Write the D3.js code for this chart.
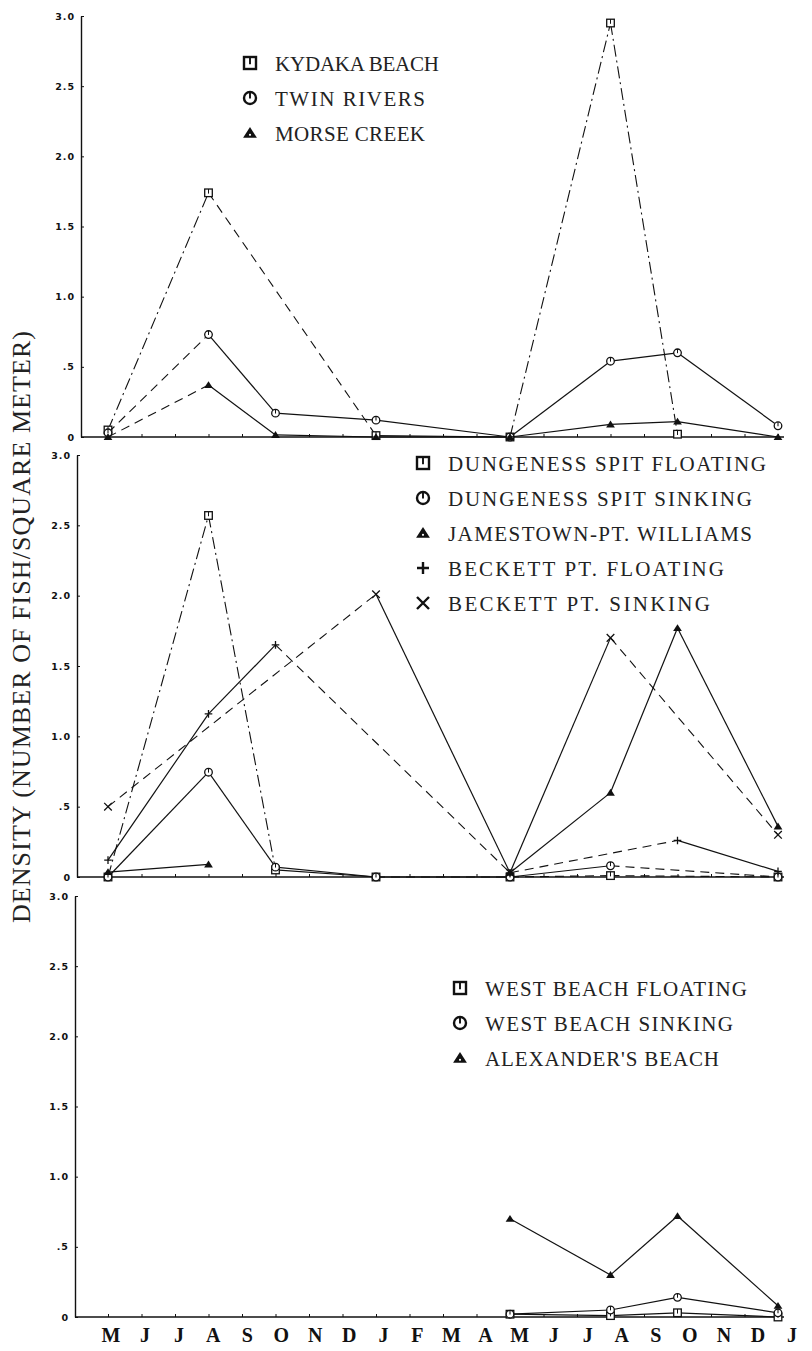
<!DOCTYPE html>
<html>
<head>
<meta charset="utf-8">
<script src="https://cdn.jsdelivr.net/npm/d3@7"></script>
<style>
  body { margin: 0; background: #fff; }
  .legend text { font-family: "Liberation Serif", serif; font-size: 21px; fill: #222; }
  .ytick text { font-family: "DejaVu Sans", sans-serif; font-weight: bold; font-size: 9.5px; letter-spacing: 1px; fill: #111; }
  .month { font-family: "Liberation Serif", serif; font-weight: bold; font-size: 20px; fill: #111; }
</style>
</head>
<body>
<script>
// month axis (May .. Jan of the second year)
var months = ["M","J","J","A","S","O","N","D","J","F","M","A","M","J","J","A","S","O","N","D","J"];
var yTickValues = [0, 0.5, 1, 1.5, 2, 2.5, 3];
var yTickLabels = ["0", ".5", "1.0", "1.5", "2.0", "2.5", "3.0"];

// panel 1
var kydakaBeach = [0.05,null,null,1.74,null,null,null,null,0.01,null,null,null,0.0,null,null,2.95,null,0.02,null,null,null];
var twinRivers  = [0.03,null,null,0.73,null,0.17,null,null,0.12,null,null,null,0.0,null,null,0.54,null,0.60,null,null,0.08];
var morseCreek  = [0.0,null,null,0.37,null,0.015,null,null,0.0,null,null,null,0.0,null,null,0.09,null,0.11,null,null,0.0];

// panel 2
var dungenessFloating = [0.0,null,null,2.57,null,0.05,null,null,0.0,null,null,null,0.0,null,null,0.01,null,null,null,null,0.0];
var dungenessSinking  = [0.0,null,null,0.745,null,0.07,null,null,0.0,null,null,null,0.0,null,null,0.08,null,null,null,null,0.0];
var jamestown         = [0.035,null,null,0.09,null,null,null,null,null,null,null,null,0.03,null,null,0.60,null,1.77,null,null,0.36];
var beckettFloating   = [0.12,null,null,1.16,null,1.65,null,null,null,null,null,null,0.03,null,null,null,null,0.26,null,null,0.04];
var beckettSinking    = [0.50,null,null,null,null,null,null,null,2.01,null,null,null,0.03,null,null,1.70,null,null,null,null,0.30];

// panel 3
var westBeachFloating = [null,null,null,null,null,null,null,null,null,null,null,null,0.02,null,null,0.01,null,0.03,null,null,0.0];
var westBeachSinking  = [null,null,null,null,null,null,null,null,null,null,null,null,0.02,null,null,0.05,null,0.14,null,null,0.03];
var alexandersBeach   = [null,null,null,null,null,null,null,null,null,null,null,null,0.70,null,null,0.30,null,0.72,null,null,0.08];

// line style of each segment between plotted points: s solid, d dashed, dd dash-dot, n none
var dashes = { s: null, d: "9,6", dd: "12,4,2,4" };

var panels = [
  { top: 16, bottom: 437, axisX: 81, legendX: 250, legendY: 63,
    series: [
      { name: "KYDAKA BEACH", values: kydakaBeach, marker: "square", segs: ["dd","d","s","dd","dd"] },
      { name: "TWIN RIVERS", values: twinRivers, marker: "circle", segs: ["d","s","s","s","s","s","s"] },
      { name: "MORSE CREEK", values: morseCreek, marker: "triangle", segs: ["d","s","s","s","s","s","s"] }
    ] },
  { top: 455, bottom: 877, axisX: 77, legendX: 423, legendY: 463,
    series: [
      { name: "DUNGENESS SPIT FLOATING", values: dungenessFloating, marker: "square", segs: ["dd","dd","s","d","d","d"] },
      { name: "DUNGENESS SPIT SINKING", values: dungenessSinking, marker: "circle", segs: ["s","s","s","s","s","d"] },
      { name: "JAMESTOWN-PT. WILLIAMS", values: jamestown, marker: "triangle", segs: ["s","n","s","s","s"] },
      { name: "BECKETT PT. FLOATING", values: beckettFloating, marker: "plus", segs: ["s","s","d","d","s"] },
      { name: "BECKETT PT. SINKING", values: beckettSinking, marker: "cross", segs: ["d","s","s","d"] }
    ] },
  { top: 896, bottom: 1317, axisX: 75, legendX: 460, legendY: 988,
    series: [
      { name: "WEST BEACH FLOATING", values: westBeachFloating, marker: "square", segs: ["s","s","s"] },
      { name: "WEST BEACH SINKING", values: westBeachSinking, marker: "circle", segs: ["s","s","s"] },
      { name: "ALEXANDER'S BEACH", values: alexandersBeach, marker: "triangle", segs: ["s","s","s"] }
    ] }
];

var width = 812, height = 1351;
var charW = 14; // typewriter pitch of the legend lettering

var svg = d3.select("body").append("svg")
    .attr("width", width)
    .attr("height", height);

var x = d3.scaleLinear().domain([0, months.length - 1]).range([108, 778]);
var xLabel = d3.scaleLinear().domain([0, months.length - 1]).range([111, 792]);

function marker(g, type, cx, cy, r, sw) {
    if (type === "square") {
        g.append("rect").attr("x", cx - r).attr("y", cy - r).attr("width", 2 * r).attr("height", 2 * r)
            .attr("fill", "#fff").attr("stroke", "#111").attr("stroke-width", sw);
        g.append("line").attr("x1", cx).attr("x2", cx).attr("y1", cy - r).attr("y2", cy + r * 0.2)
            .attr("stroke", "#111").attr("stroke-width", sw * 0.8);
    } else if (type === "circle") {
        g.append("circle").attr("cx", cx).attr("cy", cy).attr("r", r)
            .attr("fill", "#fff").attr("stroke", "#111").attr("stroke-width", sw);
        g.append("line").attr("x1", cx).attr("x2", cx).attr("y1", cy - r).attr("y2", cy + r * 0.1)
            .attr("stroke", "#111").attr("stroke-width", sw * 0.8);
    } else if (type === "triangle") {
        g.append("path")
            .attr("d", "M" + cx + "," + (cy - r) + "L" + (cx + r * 1.15) + "," + (cy + r * 0.8) +
                "L" + (cx - r * 1.15) + "," + (cy + r * 0.8) + "Z")
            .attr("fill", "#111");
        if (r > 5) {
            g.append("circle").attr("cx", cx).attr("cy", cy + r * 0.3).attr("r", r * 0.18).attr("fill", "#fff");
        }
    } else if (type === "plus") {
        g.append("path").attr("d", "M" + (cx - r) + "," + cy + "H" + (cx + r) + "M" + cx + "," + (cy - r) + "V" + (cy + r))
            .attr("stroke", "#111").attr("stroke-width", sw);
    } else if (type === "cross") {
        g.append("path").attr("d", "M" + (cx - r) + "," + (cy - r) + "L" + (cx + r) + "," + (cy + r) +
                "M" + (cx + r) + "," + (cy - r) + "L" + (cx - r) + "," + (cy + r))
            .attr("stroke", "#111").attr("stroke-width", sw);
    }
}

panels.forEach(function (p, pi) {
    var y = d3.scaleLinear().domain([0, 3]).range([p.bottom, p.top]);
    var g = svg.append("g");

    // y axis with inward ticks
    var yAxis = d3.axisLeft(y)
        .tickValues(yTickValues)
        .tickFormat(function (d, i) { return yTickLabels[i]; })
        .tickSizeInner(-3)
        .tickSizeOuter(0)
        .tickPadding(6);
    var ya = g.append("g").attr("class", "ytick")
        .attr("transform", "translate(" + p.axisX + ",0)")
        .call(yAxis);
    ya.select(".domain").attr("stroke", "#111").attr("stroke-width", 1.4);
    ya.selectAll(".tick line").attr("stroke", "#111");

    // baseline with month ticks
    g.append("line")
        .attr("x1", p.axisX).attr("x2", 784)
        .attr("y1", y(0)).attr("y2", y(0))
        .attr("stroke", "#111").attr("stroke-width", 1.4);
    var xAxis = d3.axisBottom(x)
        .tickValues(d3.range(months.length))
        .tickFormat("")
        .tickSizeInner(-3)
        .tickSizeOuter(0);
    var xa = g.append("g").attr("transform", "translate(0," + y(0) + ")").call(xAxis);
    xa.select(".domain").remove();
    xa.selectAll(".tick line").attr("stroke", "#111");

    if (pi === panels.length - 1) {
        g.selectAll("text.month").data(months).enter().append("text")
            .attr("class", "month")
            .attr("x", function (d, i) { return xLabel(i); })
            .attr("y", y(0) + 25)
            .attr("text-anchor", "middle")
            .text(function (d) { return d; });
    }

    // series
    p.series.forEach(function (s) {
        var pts = [];
        s.values.forEach(function (v, i) { if (v !== null) pts.push([i, v]); });
        for (var k = 0; k < pts.length - 1; k++) {
            var st = s.segs[k];
            if (st === "n") continue;
            g.append("line")
                .attr("x1", x(pts[k][0])).attr("y1", y(pts[k][1]))
                .attr("x2", x(pts[k + 1][0])).attr("y2", y(pts[k + 1][1]))
                .attr("stroke", "#111")
                .attr("stroke-width", st === "s" ? 1.2 : 1.1)
                .attr("stroke-dasharray", dashes[st]);
        }
        pts.forEach(function (d) {
            marker(g, s.marker, x(d[0]), y(d[1]), 3.8, 1.3);
        });
    });

    // legend
    var lg = g.append("g").attr("class", "legend");
    p.series.forEach(function (s, i) {
        var ly = p.legendY + i * 35;
        marker(lg, s.marker, p.legendX, ly, 6, 2.4);
        lg.append("text")
            .attr("x", p.legendX + 25)
            .attr("y", ly + 8)
            .attr("textLength", s.name.length * charW - 4)
            .attr("lengthAdjust", "spacing")
            .text(s.name);
    });
});

// shared y axis title
svg.append("text")
    .attr("transform", "translate(30,627) rotate(-90)")
    .attr("text-anchor", "middle")
    .attr("textLength", 592)
    .attr("lengthAdjust", "spacing")
    .style("font-family", "Liberation Serif, serif")
    .style("font-size", "26px")
    .style("fill", "#222")
    .text("DENSITY (NUMBER OF FISH/SQUARE METER)");
</script>
</body>
</html>
